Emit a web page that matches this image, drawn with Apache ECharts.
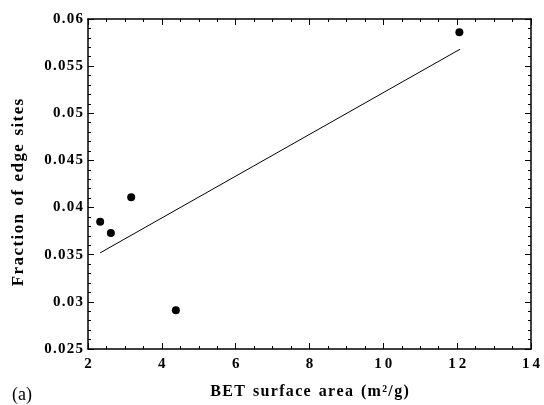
<!DOCTYPE html>
<html>
<head>
<meta charset="utf-8">
<script src="https://cdn.jsdelivr.net/npm/echarts@6/dist/echarts.min.js"></script>
<style>
  html, body { margin: 0; padding: 0; background: #fff; }
  #chart { width: 544px; height: 405px; }
</style>
</head>
<body>
<div id="chart"></div>
<script>
// measured points (BET area, fraction of edge sites)
const betArea = [2.33, 2.62, 3.17, 4.38, 12.06];
const edgeFraction = [0.0385, 0.0373, 0.0411, 0.0291, 0.0586];
// fitted line end points
const fitX = [2.33, 12.08];
const fitY = [0.0352, 0.0568];

const xTicks = { min: 2, max: 14, interval: 2 };
const yTicks = { min: 0.025, max: 0.06, interval: 0.005 };

// loose letter spacing like the original print
const spread = (s, gap) => s.split(' ').map(w => w.split('').join(gap)).join('  ');
const fmtY = v => String(parseFloat(v.toFixed(4))).split('').join('\u200a');
const fmtX = v => String(v).split('').join('\u2009');

const chart = echarts.init(document.getElementById('chart'));

const font = '"Liberation Serif", "DejaVu Serif", serif';
const lineStyle = { color: '#000', width: 1.5 };

const baseX = {
    type: 'value',
    min: xTicks.min, max: xTicks.max, interval: xTicks.interval,
    axisLine: { show: true, lineStyle: lineStyle },
    axisTick: { show: true, inside: true, length: 6, lineStyle: { color: '#000', width: 1 } },
    minorTick: { show: true, splitNumber: 4, length: 3, lineStyle: { color: '#000', width: 1 } },
    splitLine: { show: false },
};
const baseY = {
    type: 'value',
    min: yTicks.min, max: yTicks.max, interval: yTicks.interval,
    axisLine: { show: true, lineStyle: lineStyle },
    axisTick: { show: true, inside: true, length: 6, lineStyle: { color: '#000', width: 1 } },
    minorTick: { show: true, splitNumber: 5, length: 3, lineStyle: { color: '#000', width: 1 } },
    splitLine: { show: false },
};

const option = {
    backgroundColor: '#fff',
    animation: false,
    grid: { left: 88, right: 13, top: 19, bottom: 53 },
    xAxis: [
        Object.assign({}, baseX, {
            position: 'bottom',
            axisLabel: { color: '#000', fontFamily: font, fontWeight: 'bold', fontSize: 15, margin: 8, formatter: fmtX },
            name: spread('BET surface area (m²/g)', '\u200a'),
            nameLocation: 'middle',
            nameGap: 35,
            nameTextStyle: { color: '#000', fontFamily: font, fontWeight: 'bold', fontSize: 16 },
        }),
        Object.assign({}, baseX, { position: 'top', axisLabel: { show: false } }),
    ],
    yAxis: [
        Object.assign({}, baseY, {
            position: 'left',
            axisLabel: { color: '#000', fontFamily: font, fontWeight: 'bold', fontSize: 15, margin: 5, formatter: fmtY },
            name: spread('Fraction of edge sites', '\u200a'),
            nameLocation: 'middle',
            nameGap: 61,
            nameTextStyle: { color: '#000', fontFamily: font, fontWeight: 'bold', fontSize: 17, padding: [0, 17, 0, 0] },
        }),
        Object.assign({}, baseY, { position: 'right', axisLabel: { show: false } }),
    ],
    graphic: [{
        type: 'text', left: 12, top: 386,
        style: { text: '(a)', fill: '#000', font: '18px ' + font },
    }],
    series: [
        {
            type: 'scatter',
            data: betArea.map((x, i) => [x, edgeFraction[i]]),
            symbol: 'circle',
            symbolSize: 8,
            itemStyle: { color: '#000', opacity: 1 },
        },
        {
            type: 'line',
            data: fitX.map((x, i) => [x, fitY[i]]),
            showSymbol: false,
            lineStyle: { color: '#000', width: 1 },
        },
    ],
};

chart.setOption(option);
</script>
</body>
</html>
